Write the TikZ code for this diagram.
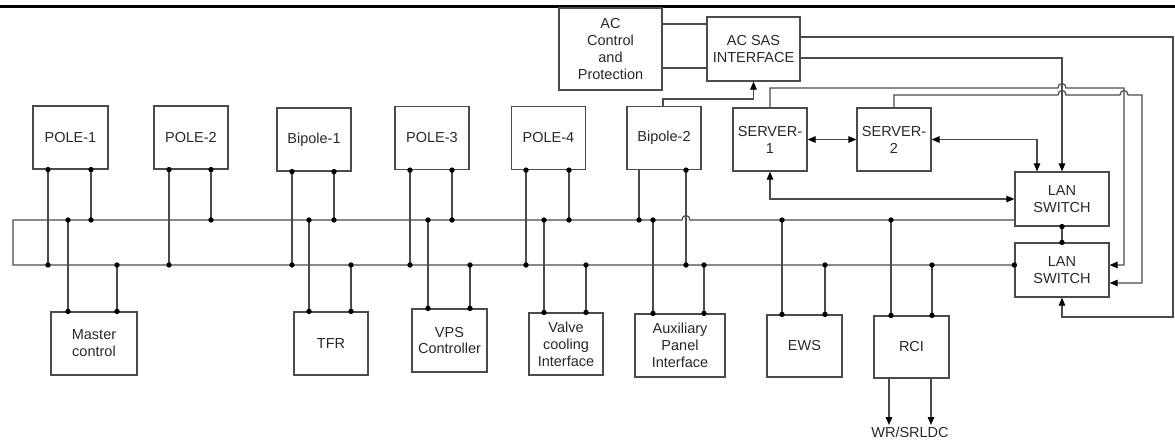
\documentclass[tikz,border=0pt]{standalone}
\usepackage{fontspec}
\setmainfont{Liberation Sans}
\usetikzlibrary{arrows.meta}
\definecolor{linegray}{RGB}{75,75,75}
\definecolor{textgray}{RGB}{40,40,40}
\tikzset{
  blk/.style={draw=linegray, line width=1.2pt, minimum width=74pt, minimum height=63pt,
    inner sep=1pt, align=center, text=textgray, font=\fontsize{14.5}{17}\selectfont},
  wire/.style={draw=linegray, line width=1.2pt},
}
\def\dotr{2.7}

\begin{document}
\begin{tikzpicture}[x=1pt, y=-1pt, >={Triangle[length=8pt,width=6.5pt,color=black]}]
        \useasboundingbox (0,0) rectangle (1175,445);
        % 上端の罫線
        \draw[line width=3pt] (0,6) -- (1175,6);
        % 上段のブロック
        \node[blk, minimum width=75pt] (pole1) at (70.5,137.5) {POLE-1};
        \node[blk] (pole2) at (191,137.5) {POLE-2};
        \node[blk] (bip1) at (314,139.5) {Bipole-1};
        \node[blk] (pole3) at (432,138) {POLE-3};
        \node[blk] (pole4) at (548.5,138) {POLE-4};
        \node[blk] (bip2) at (664,138) {Bipole-2};
        \node[blk] (srv1) at (770,139.5) {SERVER-\\1};
        \node[blk] (srv2) at (894,139.5) {SERVER-\\2};
        \node[blk, minimum width=103pt, minimum height=82pt] (acp) at (610.5,49) {AC\\Control\\and\\Protection};
        \node[blk, minimum width=93pt, minimum height=64pt] (acsas) at (753.5,49) {AC SAS\\INTERFACE};
        \node[blk, minimum width=94pt, minimum height=54pt] (lan1) at (1062,199) {LAN\\SWITCH};
        \node[blk, minimum width=94pt, minimum height=54pt] (lan2) at (1062,270) {LAN\\SWITCH};
        % 下段のブロック
        \node[blk, minimum width=86pt] (mc) at (94,343.5) {Master\\control};
        \node[blk] (tfr) at (331,343.5) {TFR};
        \node[blk, minimum width=75pt] (vps) at (449.5,340.5) {VPS\\Controller};
        \node[blk, minimum height=62pt] (vci) at (566,344) {Valve\\cooling\\Interface};
        \node[blk, minimum width=90pt] (api) at (680,345.5) {Auxiliary\\Panel\\Interface};
        \node[blk, minimum width=75pt, minimum height=62pt] (ews) at (804.5,346) {EWS};
        \node[blk, minimum width=75pt, minimum height=62pt] (rci) at (911.5,347) {RCI};
        \node[text=textgray, font=\fontsize{14.5}{17}\selectfont, inner sep=1.5pt, anchor=north] (wr) at (910,425) {WR/SRLDC};
        % 二重バス
        \draw[wire] (lan1.west |- 0,220) -- (690,220) .. controls (690,214) and (682,214) .. (682,220)
          -- (13,220) -- (13,265) -- (lan2.west |- 0,265);
        \fill (lan2.west |- 0,265) circle (\dotr);
        % 上段からバスへ
        \foreach \n/\a/\b in {pole1/48/91, pole2/169/211, bip1/292/334, pole3/410/452, pole4/526/569} {
          \coordinate (ta) at (\a,265);
          \coordinate (tb) at (\b,220);
          \draw[wire] (\n.south -| ta) -- (ta);
          \draw[wire] (\n.south -| tb) -- (tb);
          \fill (\n.south -| ta) circle (\dotr) (ta) circle (\dotr);
          \fill (\n.south -| tb) circle (\dotr) (tb) circle (\dotr);
        }
        \coordinate (tc) at (639,220);
        \coordinate (td) at (686,265);
        \draw[wire] (bip2.south -| tc) -- (tc);
        \draw[wire] (bip2.south -| td) -- (td);
        \fill (tc) circle (\dotr) (td) circle (\dotr) (bip2.south -| td) circle (\dotr);
        % バスから下段へ
        \foreach \n/\a/\b in {mc/68/117, tfr/309/351, vps/428/470, vci/544/586, api/653/704, ews/782/825, rci/891/932} {
          \coordinate (ba) at (\a,220);
          \coordinate (bb) at (\b,265);
          \draw[wire] (ba) -- (\n.north -| ba);
          \draw[wire] (bb) -- (\n.north -| bb);
          \fill (ba) circle (\dotr) (\n.north -| ba) circle (\dotr);
          \fill (bb) circle (\dotr) (\n.north -| bb) circle (\dotr);
        }
        % RCI の出力
        \draw[wire, ->] (rci.south -| 889,0) -- (wr.north -| 889,0);
        \draw[wire, ->] (rci.south -| 931,0) -- (wr.north -| 931,0);
        % AC 系
        \draw[wire] (acp.east |- 0,24) -- (acsas.west |- 0,24);
        \draw[wire] (acp.east |- 0,68) -- (acsas.west |- 0,68);
        \draw[wire, ->] (bip2.north -| 663,0) -- (663,99) -| (acsas.south);
        \draw[wire, ->] (acsas.east |- 0,37) -- (1173,37) -- (1173,317) -| (lan2.south);
        \draw[wire, ->] (acsas.east |- 0,58) -| (lan1.north);
        % サーバ
        \draw[wire, <->] (srv1.east) -- (srv2.west);
        \draw[wire, <->] (srv2.east) -| (lan1.north -| 1037,0);
        \draw[wire, <->] (srv1.south) |- (lan1.west);
        \draw[wire, ->] (srv1.north) -- (770,88) -- (1058,88) .. controls (1058,82) and (1066,82) .. (1066,88)
          -- (1124,88) |- (lan2.east |- 0,265);
        \draw[wire, ->] (srv2.north) -- (894,95) -- (1058,95) .. controls (1058,89) and (1066,89) .. (1066,95)
          -- (1120,95) .. controls (1120,89) and (1128,89) .. (1128,95) -- (1142,95) |- (lan2.east |- 0,283);
        % LAN スイッチ間
        \draw[wire] (lan1.south) -- (lan2.north);
        \fill (lan1.south) circle (\dotr) (lan2.north) circle (\dotr);
      \end{tikzpicture}
\end{document}
